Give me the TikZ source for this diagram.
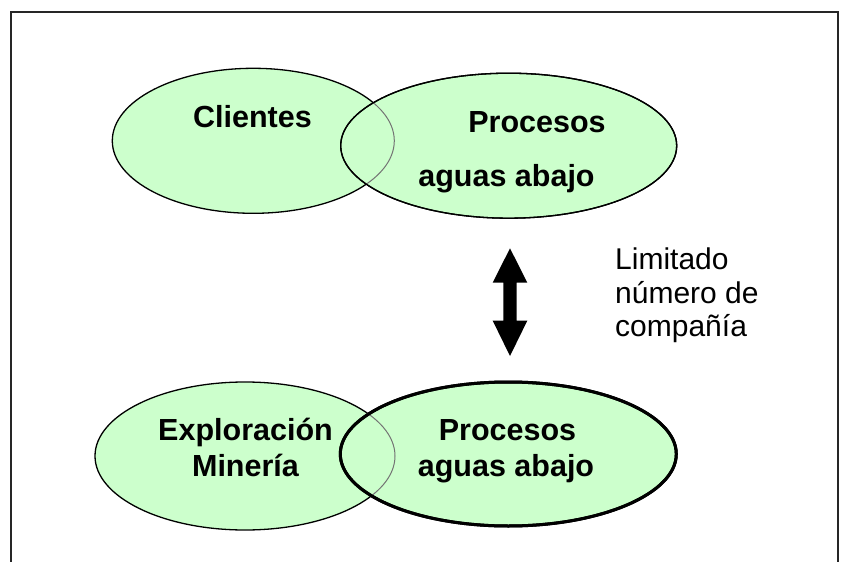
\documentclass[tikz,border=0pt]{standalone}
\usepackage{fontspec}
\setmainfont{Liberation Sans}
\usetikzlibrary{shapes.geometric}
\definecolor{ovalgreen}{HTML}{CCFFCC}
\begin{document}
\begin{tikzpicture}[x=1pt,y=-1pt,
  oval/.style={ellipse, draw=black, line width=1.3pt, fill=ovalgreen, inner sep=0pt},
  lab/.style={font=\fontsize{30.5}{36.7}\selectfont\bfseries, inner sep=0pt, anchor=base},
  note/.style={font=\fontsize{30}{33.7}\selectfont, inner sep=0pt, anchor=base west},
  frameline/.style={draw=black!85, line width=1.6pt},
]
\useasboundingbox (0,0) rectangle (847,562);
\draw[frameline] (10.7,575) -- (10.7,11.7) -- (838,11.7) -- (838,575);

% top pair
\node[oval, minimum width=282, minimum height=145] (cli) at (253.3,140.8) {};
\node[oval, minimum width=336, minimum height=145] (proc1) at (508.7,145.7) {};
\begin{scope}
  \clip (proc1.center) ellipse [x radius=168, y radius=72.5];
  \draw[black!55, line width=1pt] (cli.center) ellipse [x radius=141, y radius=72.5];
\end{scope}
\draw[black, line width=1.3pt] (proc1.center) ellipse [x radius=168, y radius=72.5];

% bottom pair
\node[oval, minimum width=300, minimum height=148] (exp) at (245,456) {};
\node[oval, line width=3pt, minimum width=336, minimum height=144] (proc2) at (508.3,454) {};
\begin{scope}
  \clip (proc2.center) ellipse [x radius=168, y radius=72];
  \draw[black!55, line width=1pt] (exp.center) ellipse [x radius=150, y radius=74];
\end{scope}
\draw[black, line width=3pt] (proc2.center) ellipse [x radius=168, y radius=72];

% labels
\node[lab] (tcli) at (252.5,127) {Clientes};
\node[lab] (tp1a) at (537,132) {Procesos};
\node[lab] (tp1b) at (506.5,186) {aguas abajo};
\node[lab] (texa) at (245.5,440) {Exploración};
\node[lab] (texb) at (245.5,476.7) {Minería};
\node[lab] (tp2a) at (507.5,440) {Procesos};
\node[lab] (tp2b) at (506,476.7) {aguas abajo};

% double arrow
\coordinate (atop) at (510,248.3);
\coordinate (abot) at (510,356);
\fill[black] (atop) -- (527.3,282.7) -- (516.7,282.7) -- (516.7,320.7) -- (527.3,320.7)
  -- (abot) -- (492.7,320.7) -- (503.3,320.7) -- (503.3,282.7) -- (492.7,282.7) -- cycle;

% note
\node[note] (n1) at (615,269.3) {Limitado};
\node[note] (n2) at (615,303.3) {número de};
\node[note] (n3) at (615,336.7) {compañía};
\end{tikzpicture}
\end{document}
